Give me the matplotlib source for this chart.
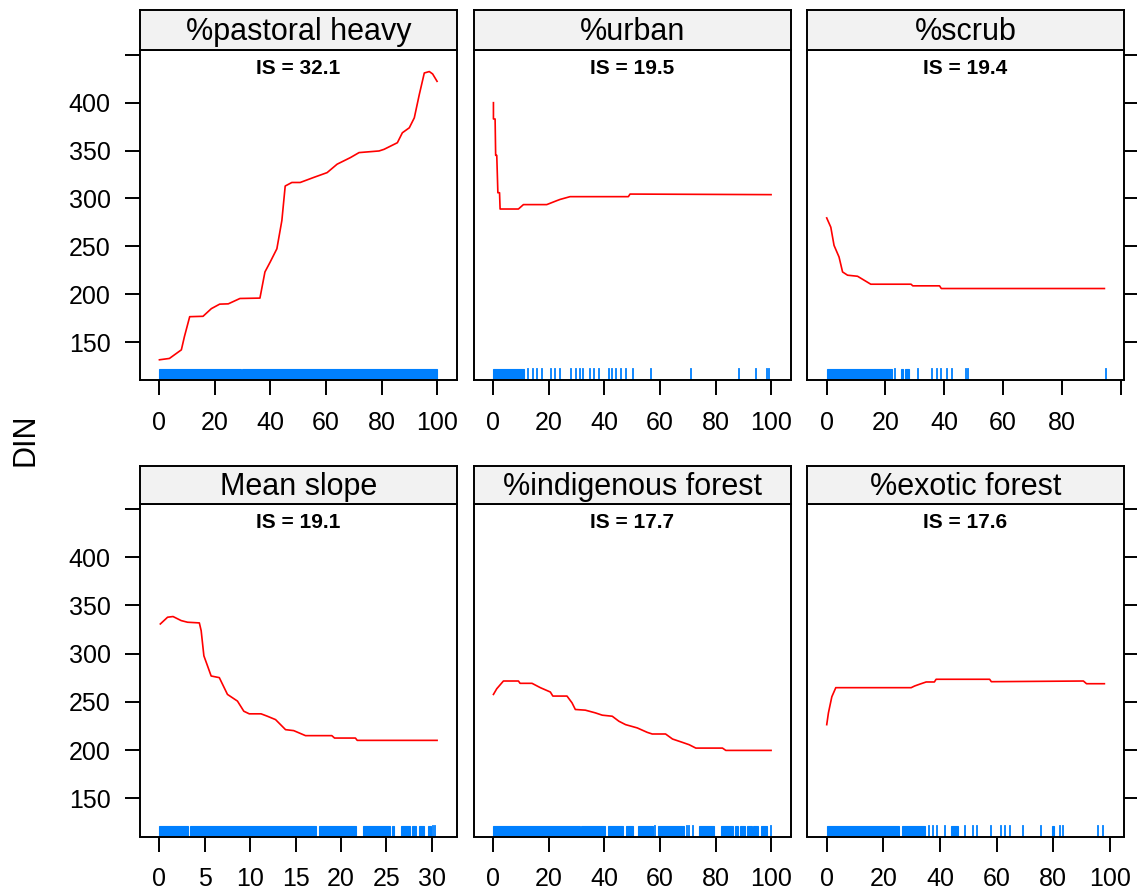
import matplotlib
matplotlib.use("Agg")
import matplotlib.pyplot as plt

plt.rcParams['font.family'] = ['Liberation Sans', 'DejaVu Sans']

# -----------------------------
# Data
# -----------------------------
titles = ["%pastoral heavy", "%urban", "%scrub",
          "Mean slope", "%indigenous forest", "%exotic forest"]
is_labels = ["IS = 32.1", "IS = 19.5", "IS = 19.4",
             "IS = 19.1", "IS = 17.7", "IS = 17.6"]

pastoral_x = [0, 3.6, 7.9, 9, 10.9, 15.7, 18.7, 21.7, 24.8, 29, 36.2, 38, 39.9, 42.3,
              44.1, 45.3, 47.7, 50.7, 55.6, 60.4, 64, 68.8, 71.9, 79.1, 80.9, 85.7,
              87.5, 90, 91.8, 93.6, 95.4, 97.2, 98.4, 100]
pastoral_y = [131.6, 133, 142, 155.8, 176.6, 177, 185, 189.7, 190, 195.6, 196, 223.3,
              233.7, 247.5, 277, 313, 316.7, 316.7, 322, 327, 335.8, 342.7, 347.9,
              349.6, 351.3, 358.2, 368.6, 373.8, 384.2, 408.5, 431, 432.5, 430, 422.3]

urban_x = [0, 0, 0.6, 0.8, 1.2, 1.6, 2.2, 2.4, 9, 10.8, 19.2, 22.8, 24, 27.6, 48.6,
           49.2, 100]
urban_y = [400, 383, 383, 345, 345, 306, 306, 289, 289, 293.6, 293.6, 297.7, 299,
           301.9, 301.9, 304.6, 304]

scrub_x = [0, 1.4, 2.5, 4.2, 5.4, 7.1, 10.5, 15, 28.7, 29.3, 38.4, 39, 94.5]
scrub_y = [279.7, 270, 251, 238.9, 223.3, 219.9, 218.8, 210.5, 210.5, 208.8, 208.8,
           206, 206]

slope_x = [0.1, 0.9, 1.5, 2.4, 3.1, 4.4, 4.6, 4.9, 5.3, 5.7, 6.6, 7.5, 8.6, 9.3, 9.9,
           11.2, 11.9, 12.8, 13.9, 14.8, 16.1, 19, 19.3, 21.6, 21.8, 30.6]
slope_y = [330.7, 337.7, 338.4, 334.2, 332.5, 331.8, 323.8, 297.7, 287.3, 276.8, 275.1,
           257.7, 250.8, 240.3, 237.6, 237.6, 235.1, 231.6, 221.2, 220.2, 215, 215,
           212.5, 212.5, 210.1, 210.1]

indig_x = [0, 1.2, 3.6, 9, 9.6, 13.9, 16.9, 20.5, 21.4, 26.5, 28.3, 29.5, 33.1, 36.7,
           39.2, 42.8, 45.2, 47.6, 51.8, 55.4, 57.2, 62, 64.5, 68.1, 70.5, 72.9, 82.5,
           83.7, 100]
indig_y = [257.7, 263.6, 271.6, 271.6, 269.2, 269.2, 264.7, 260.2, 256, 256, 249, 242.1,
           241.4, 238.6, 236.2, 235.1, 229.9, 226.4, 223, 218.4, 216.7, 216.7, 211.5,
           208, 205.6, 202.1, 202.1, 199.7, 199.7]

exotic_x = [0, 0.6, 1.1, 1.8, 3.2, 29.8, 31, 32.7, 35.1, 38, 38.6, 57.5, 58.1, 90.6,
            91.7, 98]
exotic_y = [226.4, 238.6, 245.6, 255.3, 264.7, 264.7, 266.4, 268.2, 270.6, 270.6,
            273.4, 273.4, 270.9, 271.6, 268.8, 268.8]

# rug: dense stretches as spans, isolated observations as single ticks
pastoral_rug_spans = [(0, 29.2), (29.7, 100)]
pastoral_rug_ticks = []
urban_rug_spans = [(0, 10.9)]
urban_rug_ticks = [12.4, 14.2, 15.7, 17.4, 20.8, 22.3, 23.8, 28, 29.8, 31, 32.4, 34.9,
                   36.4, 38.2, 41.8, 42.7, 44.2, 46, 47.8, 50.4, 56.8, 71.2, 88.6,
                   94.4, 98.4, 99.2]
scrub_rug_spans = [(0, 22.2), (25.2, 26.0), (26.8, 27.9)]
scrub_rug_ticks = [23.1, 30.9, 35.7, 37.7, 38.9, 40.8, 42.5, 47.3, 48.2, 94.9]
slope_rug_spans = [(0, 3.1), (3.4, 17.3), (17.6, 21.7), (22.4, 25.4), (25.6, 25.9),
                   (26.6, 27.6), (27.8, 28.3), (28.6, 29.2), (29.6, 29.9)]
slope_rug_ticks = [30.1, 30.4]
indig_rug_spans = [(0, 31), (31.6, 40.3), (41.3, 46.7), (47.6, 50.4), (52, 57.3),
                   (59.3, 68.5), (74.2, 79.4), (81.8, 86.3), (86.9, 88.1), (88.7, 90.6),
                   (91.2, 93), (93.6, 95.4), (96.4, 98.4)]
indig_rug_ticks = [58.1, 69.7, 70.6, 71.8, 100]
exotic_rug_spans = [(0, 25.6), (26.6, 34.8), (43.7, 46.3), (79.6, 80.3)]
exotic_rug_ticks = [36, 37.4, 39, 41.8, 48.9, 51.6, 53.1, 58.1, 61.4, 62.8, 64.6, 69.3,
                    75.8, 82.3, 83.5, 95.6, 97.6]

y_ticks = [150, 200, 250, 300, 350, 400, 450]
y_tick_labels = ["150", "200", "250", "300", "350", "400", ""]

pct_ticks = [0, 20, 40, 60, 80, 100]
slope_ticks = [0, 5, 10, 15, 20, 25, 30]

panels = [
    (pastoral_x, pastoral_y, pastoral_rug_spans, pastoral_rug_ticks, pct_ticks,
     ["0", "20", "40", "60", "80", "100"], (-7, 107)),
    (urban_x, urban_y, urban_rug_spans, urban_rug_ticks, pct_ticks,
     ["0", "20", "40", "60", "80", "100"], (-7, 107)),
    (scrub_x, scrub_y, scrub_rug_spans, scrub_rug_ticks, pct_ticks,
     ["0", "20", "40", "60", "80", ""], (-6.6, 101.1)),
    (slope_x, slope_y, slope_rug_spans, slope_rug_ticks, slope_ticks,
     ["0", "5", "10", "15", "20", "25", "30"], (-2.14, 32.74)),
    (indig_x, indig_y, indig_rug_spans, indig_rug_ticks, pct_ticks,
     ["0", "20", "40", "60", "80", "100"], (-7, 107)),
    (exotic_x, exotic_y, exotic_rug_spans, exotic_rug_ticks, pct_ticks,
     ["0", "20", "40", "60", "80", "100"], (-6.86, 104.86)),
]

# -----------------------------
# Layout (pixel boxes -> figure fractions)
# -----------------------------
W, H = 1137, 892
fig = plt.figure(figsize=(W / 100, H / 100), dpi=100)

col_left = [140, 474, 807.3]
col_w = 316.5
rows = [(50, 380, 10), (504, 836.5, 466)]  # (panel top, panel bottom, strip top)

RED = "#FF0000"
BLUE = "#0080FF"
STRIP = "#F2F2F2"

for i, (px, py, spans, ticks, xt, xtl, xlim) in enumerate(panels):
    r, c = divmod(i, 3)
    top, bot, stop = rows[r]
    left = col_left[c]

    ax = fig.add_axes([left / W, 1 - bot / H, col_w / W, (bot - top) / H])
    ax.plot(px, py, color=RED, lw=1.2)
    for a, b in spans:
        ax.axvspan(a, b, ymin=0, ymax=0.032, color=BLUE, lw=0.8)
    for t in ticks:
        ax.axvline(t, ymin=0, ymax=0.032, color=BLUE, lw=1.3)

    ax.set_xlim(*xlim)
    ax.set_ylim(110.5, 455)
    ax.set_xticks(xt)
    ax.set_xticklabels(xtl)
    ax.set_yticks(y_ticks)
    ax.set_yticklabels(y_tick_labels)
    ax.tick_params(direction="out", length=11, width=1.4, labelsize=18, colors="black")
    ax.tick_params(axis="x", pad=11)
    ax.tick_params(axis="y", pad=10, left=(c == 0), labelleft=(c == 0),
                   right=(c == 2), labelright=False)
    for s in ax.spines.values():
        s.set_linewidth(1.4)

    ax.text(0.5, 0.945, is_labels[i], transform=ax.transAxes, ha="center", va="center",
            fontsize=15, fontweight="bold")

    # strip
    sax = fig.add_axes([left / W, 1 - top / H, col_w / W, (top - stop) / H])
    sax.set_facecolor(STRIP)
    sax.set_xticks([])
    sax.set_yticks([])
    for s in sax.spines.values():
        s.set_linewidth(1.4)
    sax.text(0.5, 0.45, titles[i], transform=sax.transAxes, ha="center", va="center",
             fontsize=22)

fig.text(25 / W, 1 - 440 / H, "DIN", rotation=90, ha="center", va="center",
         fontsize=22)

fig.savefig("out.png", dpi=100)
